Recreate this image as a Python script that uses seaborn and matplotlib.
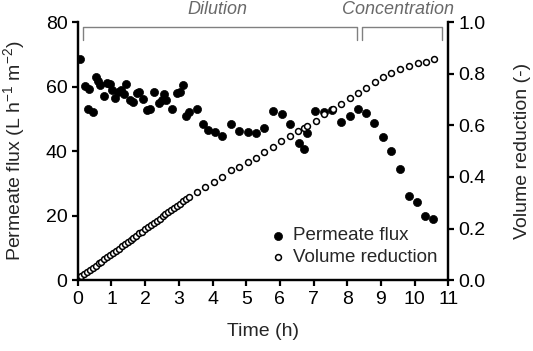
import matplotlib
matplotlib.use("Agg")
import matplotlib.pyplot as plt
import seaborn as sns
import pandas as pd

# permeate flux (L h-1 m-2)
flux_time = [0.06, 0.20, 0.30, 0.33, 0.45, 0.54, 0.60, 0.67, 0.78, 0.87, 0.95, 1.02,
             1.11, 1.20, 1.27, 1.37, 1.44, 1.55, 1.65, 1.75, 1.83, 1.95, 2.05, 2.15,
             2.27, 2.40, 2.50, 2.55, 2.63, 2.80, 2.95, 3.04, 3.11, 3.22, 3.31, 3.54,
             3.71, 3.87, 4.06, 4.27, 4.56, 4.79, 5.04, 5.28, 5.53, 5.80, 6.05, 6.30,
             6.56, 6.71, 6.81, 7.05, 7.32, 7.55, 7.82, 8.07, 8.32, 8.55, 8.80, 9.07,
             9.31, 9.58, 9.83, 10.08, 10.31, 10.56]
flux = [68.5, 60.2, 53.0, 59.2, 52.0, 63.0, 61.7, 60.4, 57.1, 61.0, 60.7, 59.1,
        56.5, 58.4, 59.1, 57.6, 60.7, 55.8, 55.3, 57.9, 58.4, 56.3, 52.7, 53.2,
        58.2, 54.8, 55.8, 57.6, 56.0, 53.2, 57.9, 58.4, 60.4, 51.0, 52.2, 53.0,
        48.4, 46.5, 46.0, 44.7, 48.3, 46.3, 45.8, 45.5, 47.3, 52.5, 51.5, 48.3,
        42.6, 40.5, 45.7, 52.4, 52.2, 52.9, 49.1, 51.0, 53.2, 51.7, 48.6, 44.5,
        40.1, 34.6, 26.1, 24.3, 19.8, 18.9]

# volume reduction (-)
vr_time = [0.10, 0.19, 0.27, 0.36, 0.45, 0.53, 0.62, 0.70, 0.79, 0.88, 0.96, 1.05,
           1.14, 1.22, 1.31, 1.39, 1.48, 1.57, 1.65, 1.74, 1.83, 1.91, 2.00, 2.08,
           2.17, 2.26, 2.34, 2.43, 2.52, 2.60, 2.69, 2.77, 2.86, 2.95, 3.03, 3.12,
           3.21, 3.29, 3.54, 3.79, 4.04, 4.29, 4.54, 4.79, 5.04, 5.29, 5.54, 5.79,
           6.04, 6.30, 6.55, 6.72, 6.81, 7.06, 7.32, 7.57, 7.82, 8.07, 8.32, 8.57,
           8.81, 9.07, 9.31, 9.56, 9.83, 10.09, 10.33, 10.58]
vr = [0.015, 0.023, 0.031, 0.040, 0.048, 0.056, 0.065, 0.072, 0.081, 0.089, 0.097, 0.106,
      0.114, 0.122, 0.131, 0.138, 0.147, 0.155, 0.163, 0.172, 0.181, 0.188, 0.197, 0.205,
      0.213, 0.222, 0.230, 0.238, 0.247, 0.255, 0.263, 0.271, 0.280, 0.288, 0.296, 0.305,
      0.313, 0.321, 0.340, 0.360, 0.380, 0.400, 0.426, 0.437, 0.456, 0.475, 0.495, 0.517,
      0.539, 0.559, 0.576, 0.590, 0.596, 0.616, 0.642, 0.662, 0.684, 0.704, 0.726, 0.745,
      0.769, 0.786, 0.804, 0.818, 0.831, 0.840, 0.847, 0.857]

phases = ["Dilution", "Concentration"]
phase_start = [0.15, 8.45]
phase_end = [8.3, 10.8]
phase_label_x = [4.15, 9.5]

df_flux = pd.DataFrame({"t": flux_time, "flux": flux})
df_vr = pd.DataFrame({"t": vr_time, "vr": vr})

sns.set_style("ticks")
plt.rcParams["font.family"] = ["Liberation Sans", "DejaVu Sans"]
plt.rcParams["font.size"] = 14
plt.rcParams["mathtext.default"] = "regular"

fig = plt.figure(figsize=(5.33, 3.51), dpi=100)
ax = fig.add_axes([0.146, 0.202, 0.695, 0.735])
ax2 = ax.twinx()

sns.scatterplot(data=df_flux, x="t", y="flux", ax=ax, color="black", s=34,
                edgecolor="black", linewidth=0.5, label="Permeate flux", legend=False)
sns.scatterplot(data=df_vr, x="t", y="vr", ax=ax2, facecolor="white", edgecolor="black",
                s=18, linewidth=1.1, label="Volume reduction", legend=False)

ax.set_xlim(0, 11)
ax.set_ylim(0, 80)
ax2.set_ylim(0, 1.0)
ax.set_xticks(range(12))
ax.set_yticks([0, 20, 40, 60, 80])
ax2.set_yticks([0.0, 0.2, 0.4, 0.6, 0.8, 1.0])
ax2.set_yticklabels([f"{v:.1f}" for v in [0.0, 0.2, 0.4, 0.6, 0.8, 1.0]])
ax.set_xlabel("Time (h)", fontsize=14, labelpad=11)
ax.set_ylabel("Permeate flux (L h$^{-1}$ m$^{-2}$)", fontsize=14, labelpad=13)
ax2.set_ylabel("Volume reduction (-)", fontsize=14, labelpad=20)

for a in (ax, ax2):
    for s in a.spines.values():
        s.set_linewidth(1.6)
        s.set_color("black")
    a.tick_params(direction="out", length=4, width=1.6, labelsize=14, colors="black")
ax.spines["top"].set_visible(False)
ax2.spines["top"].set_visible(False)

# phase brackets above the data
for name, x0, x1, xl in zip(phases, phase_start, phase_end, phase_label_x):
    ax.plot([x0, x0, x1, x1], [74.5, 78.4, 78.4, 74.5], color="gray", lw=1.0,
            clip_on=False)
    ax.text(xl, 81.3, name, ha="center", va="bottom", style="italic",
            color="dimgray", fontsize=13)

h1, l1 = ax.get_legend_handles_labels()
h2, l2 = ax2.get_legend_handles_labels()
ax2.legend(h1 + h2, l1 + l2, loc="lower right", bbox_to_anchor=(1.0, 0.01),
           frameon=False, fontsize=13.5, handlelength=0.8, handletextpad=0.4,
           labelspacing=0.25, borderaxespad=0.2)

fig.savefig("out.png", dpi=100)
